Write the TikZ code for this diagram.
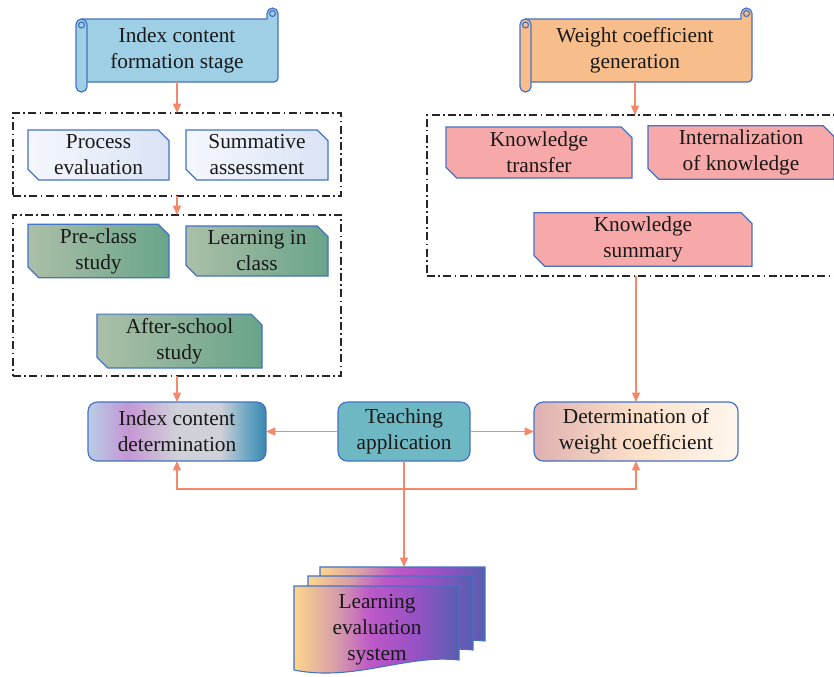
\documentclass[tikz,border=0pt]{standalone}
\usepackage{fontspec}
\setmainfont{Liberation Serif}
\usetikzlibrary{arrows.meta,shapes.misc,calc}
\definecolor{bordercol}{RGB}{68,114,196}
\definecolor{arrcol}{RGB}{244,136,104}
\definecolor{scrA}{RGB}{158,207,229}
\definecolor{scrB}{RGB}{247,190,140}
\definecolor{peA}{RGB}{244,247,253}
\definecolor{peB}{RGB}{218,227,245}
\definecolor{grA}{RGB}{172,191,167}
\definecolor{grB}{RGB}{104,164,138}
\definecolor{pinkfill}{RGB}{247,168,168}
\definecolor{teachfill}{RGB}{110,184,196}
\definecolor{icA}{RGB}{184,206,230}
\definecolor{icB}{RGB}{196,150,212}
\definecolor{icC}{RGB}{208,208,216}
\definecolor{icD}{RGB}{92,160,190}
\definecolor{icE}{RGB}{60,135,175}
\definecolor{dtA}{RGB}{222,176,176}
\definecolor{dtB}{RGB}{252,224,200}
\definecolor{dtC}{RGB}{255,246,238}
\definecolor{leA}{RGB}{252,214,140}
\definecolor{leB}{RGB}{214,156,168}
\definecolor{leC}{RGB}{190,88,200}
\definecolor{leD}{RGB}{150,82,196}
\definecolor{leE}{RGB}{88,94,176}
\pgfdeclarehorizontalshading{icshade}{100bp}{color(0bp)=(icA); color(25bp)=(icA); color(36bp)=(icB); color(50bp)=(icC); color(62bp)=(icC); color(71bp)=(icD); color(75bp)=(icE); color(100bp)=(icE)}
\pgfdeclarehorizontalshading{dtshade}{100bp}{color(0bp)=(dtA); color(25bp)=(dtA); color(50bp)=(dtB); color(75bp)=(dtC); color(100bp)=(dtC)}
\pgfdeclarehorizontalshading{leshade}{100bp}{color(0bp)=(leA); color(25bp)=(leA); color(38bp)=(leB); color(48bp)=(leC); color(62bp)=(leD); color(75bp)=(leE); color(100bp)=(leE)}
\tikzset{
  txt/.style={font=\fontsize{16}{19.5}\selectfont, align=center, text=black!90},
  arr/.style={draw=arrcol, line width=0.9pt, -{Triangle[length=7pt,width=6pt]}},
  dbox/.style={draw=black!85, line width=0.8pt, dash pattern=on 6pt off 2.5pt on 1.2pt off 2.5pt, inner sep=0pt, outer sep=0pt},
  chbox/.style={txt, chamfered rectangle, chamfered rectangle corners={north east,south west}, chamfered rectangle xsep=5pt, draw=bordercol, line width=0.9pt, inner sep=0pt, outer sep=0pt},
  rbox/.style={txt, rectangle, rounded corners=7pt, draw=bordercol, line width=0.9pt, inner sep=0pt, outer sep=0pt, minimum height=44.25pt},
  scrollline/.style={draw=bordercol, line width=0.9pt},
  docline/.style={draw=bordercol, line width=0.8pt},
}
\newcommand\scrollshape[6]{%
  \draw[scrollline, fill=#6] ({#1+6},#4) -- ({#2-11},#4) -- ({#2-11},{#3+5.5}) arc(180:360:5.5) -- (#2,{#5-4}) arc(0:90:4) -- ({#1+6},#5) -- cycle;
  \draw[scrollline] ({#2-5.5},{#3+5.5}) circle (3);
  \draw[scrollline, fill=#6, rounded corners=4pt] (#1,#4) rectangle ({#1+11},{#5+10});
  \draw[scrollline] ({#1+5.5},{#4+6}) circle (3);
}
\newcommand\docsheet[2]{%
  \draw[docline, shading=leshade] (#1,#2) -- ({#1+165},#2) -- ({#1+165},{#2+74}) .. controls ({#1+112},{#2+68}) and ({#1+60},{#2+96}) .. (#1,{#2+84}) -- cycle;
}
\begin{document}
\begin{tikzpicture}[x=0.75pt, y=-0.75pt]
\useasboundingbox (0,0) rectangle (834,676);
\clip (0,0) rectangle (834,676);
% scrolls
\scrollshape{76}{278}{8}{19}{82}{scrA}
\node[txt, minimum height=47.25pt, inner sep=0pt] (sc1) at (177,50.5) {Index content\\formation stage};
\scrollshape{520}{752}{8}{19}{82}{scrB}
\node[txt, minimum height=47.25pt, inner sep=0pt] (sc2) at (635,50.5) {Weight coefficient\\generation};
% dashed boxes
\node[dbox, minimum width=246pt, minimum height=62.25pt] (b1) at (177,154.5) {};
\node[dbox, minimum width=246pt, minimum height=120.75pt] (b2) at (177,295.5) {};
\node[dbox, minimum width=316.5pt, minimum height=120.75pt] (b3) at (638,195.5) {};
% left group
\node[chbox, left color=peA, right color=peB, minimum width=105.75pt, minimum height=37.5pt] (pe) at (98.5,155) {Process\\evaluation};
\node[chbox, left color=peA, right color=peB, minimum width=106.5pt, minimum height=37.5pt] (sa) at (257,155) {Summative\\assessment};
\node[chbox, left color=grA, right color=grB, minimum width=105.75pt, minimum height=37.5pt] (pc) at (98.5,251) {Pre-class\\study};
\node[chbox, left color=grA, right color=grB, minimum width=106.5pt, minimum height=37.5pt] (lc) at (257,251) {Learning in\\class};
\node[chbox, left color=grA, right color=grB, minimum width=123.75pt, minimum height=37.5pt] (as) at (179.5,341) {After-school\\study};
% right group
\node[chbox, fill=pinkfill, minimum width=139.5pt, minimum height=38.25pt] (kt) at (539,152.5) {Knowledge\\transfer};
\node[chbox, fill=pinkfill, minimum width=139.5pt, minimum height=38.25pt] (ik) at (741,152.5) {Internalization\\of knowledge};
\node[chbox, fill=pinkfill, minimum width=163.5pt, minimum height=38.25pt] (ks) at (643,239.5) {Knowledge\\summary};
% middle row
\node[rbox, shading=icshade, minimum width=133.5pt] (idx) at (177,431.5) {Index content\\determination};
\node[rbox, fill=teachfill, minimum width=99pt] (teach) at (404,431.5) {Teaching\\application};
\node[rbox, shading=dtshade, minimum width=153pt] (det) at (636,431.5) {Determination of\\weight coefficient};
% document
\docsheet{320}{567}
\docsheet{308}{576}
\docsheet{294}{586}
\node[txt, inner sep=0pt] (les) at (377,630) {Learning\\evaluation\\system};
\coordinate (docTop) at (404,567);
\coordinate (bus) at (404,489);
% arrows
\draw[arr] (sc1.south) -- (b1.north);
\draw[arr] (b1.south) -- (b2.north);
\draw[arr] (b2.south) -- (idx.north);
\draw[arr] (sc2.south) -- (sc2.south |- b3.north);
\draw[arr] (b3.south -| det.north) -- (det.north);
\draw[arr] (teach.west) -- (idx.east);
\draw[arr] (teach.east) -- (det.west);
\draw[arr] (teach.south) -- (docTop);
\draw[arr] (bus) -| (idx.south);
\draw[arr] (bus) -| (det.south);
\end{tikzpicture}
\end{document}
